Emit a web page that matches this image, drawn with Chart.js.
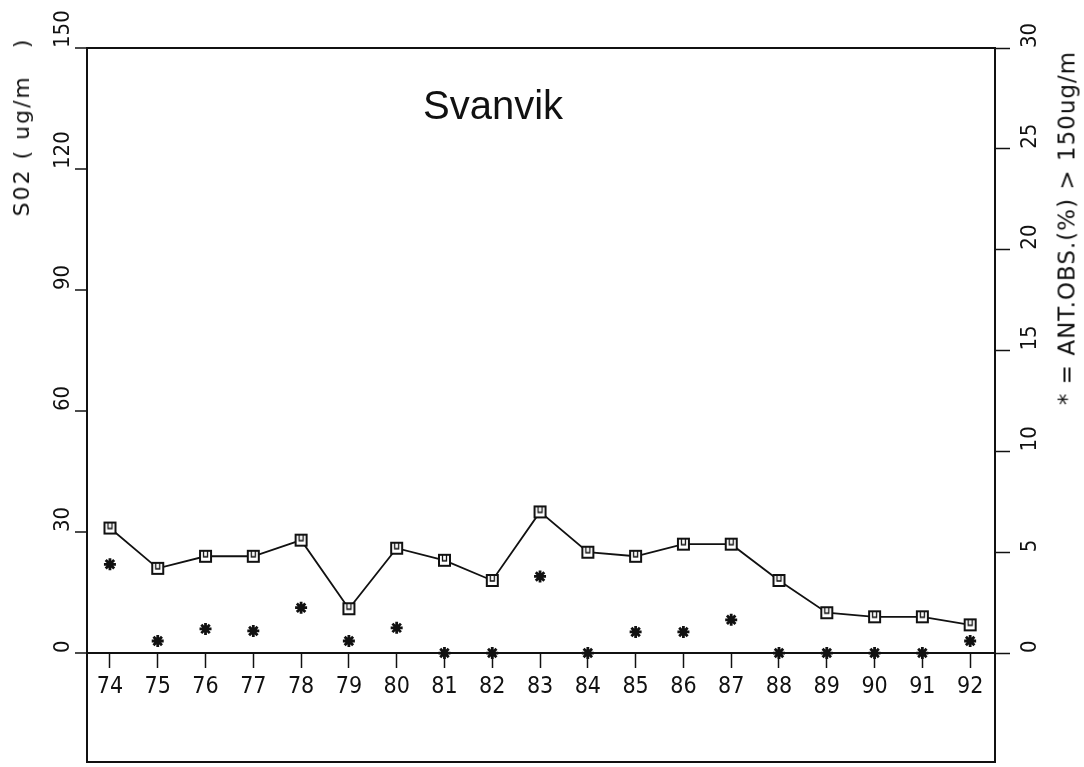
<!DOCTYPE html>
<html>
<head>
<meta charset="utf-8">
<script src="https://cdn.jsdelivr.net/npm/chart.js@4.4.1/dist/chart.umd.min.js"></script>
<style>
    body { margin: 0; background: #fff; }
    #wrap { position: relative; width: 1084px; height: 767px; }
    #so2Chart { position: absolute; left: 0; top: 0; }
    .lbl { position: absolute; white-space: pre; color: #111; }
    #title { left: 493px; top: 85px; transform: translateX(-50%); font: 40px/40px "Liberation Sans", Arial, sans-serif; }
    .rot { transform: translate(-50%, -50%) rotate(-90deg); font-family: "DejaVu Sans", sans-serif; line-height: 1; }
    #yTitle { left: 22px; top: 127px; font-size: 22px; letter-spacing: 2px; }
    #y1Title { left: 1067px; top: 228px; font-size: 23px; letter-spacing: 1px; }
</style>
</head>
<body>
<div id="wrap">
    <canvas id="so2Chart" width="1084" height="767"></canvas>
    <div id="title" class="lbl">Svanvik</div>
    <div id="yTitle" class="lbl rot">S02 ( ug/m   )</div>
    <div id="y1Title" class="lbl rot">* = ANT.OBS.(%) &gt; 150ug/m</div>
</div>
<script>
// Yearly SO2 means (left axis) and share of observations > 150 ug/m3 (right axis)
const years = [74, 75, 76, 77, 78, 79, 80, 81, 82, 83, 84, 85, 86, 87, 88, 89, 90, 91, 92];
const so2Mean = [31, 21, 24, 24, 28, 11, 26, 23, 18, 35, 25, 24, 27, 27, 18, 10, 9, 9, 7];
const pctOver150 = [4.4, 0.6, 1.2, 1.1, 2.25, 0.6, 1.25, 0, 0, 3.8, 0, 1.05, 1.05, 1.65, 0, 0, 0, 0, 0.6];
const so2Ticks = [0, 30, 60, 90, 120, 150];
const pctTicks = [0, 5, 10, 15, 20, 25, 30];

const ink = '#111';
const tickFont = { family: "'DejaVu Sans Condensed', 'DejaVu Sans', sans-serif", size: 22 };
const SO2_MIN = -27;   // frame runs below the zero line
const PCT_MIN = -5.4;

// plotter-style square marker with a small mark inside
function squareMarker() {
    const c = document.createElement('canvas');
    c.width = 15;
    c.height = 15;
    const g = c.getContext('2d');
    g.fillStyle = '#fff';
    g.fillRect(1, 1, 13, 13);
    g.strokeStyle = ink;
    g.lineWidth = 2;
    g.strokeRect(2, 2, 11, 11);
    g.lineWidth = 1.3;
    g.beginPath();
    g.moveTo(5.5, 3);
    g.lineTo(5.5, 8);
    g.lineTo(9.5, 8);
    g.lineTo(9.5, 3);
    g.stroke();
    return c;
}

function zeroPadding(scale) {
    scale.paddingTop = 0;
    scale.paddingBottom = 0;
    scale.paddingLeft = 0;
    scale.paddingRight = 0;
}

new Chart(document.getElementById('so2Chart'), {
    type: 'line',
    data: {
        datasets: [
            {
                label: 'SO2',
                data: years.map((yr, i) => ({ x: yr, y: so2Mean[i] })),
                yAxisID: 'y',
                borderColor: ink,
                borderWidth: 1.8,
                tension: 0,
                pointStyle: squareMarker(),
                pointRadius: 7,
            },
            {
                label: 'ANT.OBS.',
                data: years.map((yr, i) => ({ x: yr, y: pctOver150[i] })),
                yAxisID: 'y1',
                showLine: false,
                pointStyle: 'star',
                pointRadius: 6,
                borderColor: ink,
                borderWidth: 2.8,
            }
        ]
    },
    options: {
        responsive: false,
        animation: false,
        layout: { autoPadding: false, padding: { left: 52, right: 20, top: 48, bottom: 5 } },
        plugins: {
            legend: { display: false },
            tooltip: { enabled: false },
        },
        scales: {
            x: {
                type: 'linear',
                position: { y: 0 },
                min: 73.52,
                max: 92.52,
                afterBuildTicks: axis => { axis.ticks = years.map(v => ({ value: v })); },
                afterFit: zeroPadding,
                ticks: {
                    autoSkip: false,
                    maxRotation: 0,
                    padding: 6,
                    color: ink,
                    font: { ...tickFont, size: 23 },
                    callback: v => String(v),
                },
                grid: { drawOnChartArea: false, tickLength: 14, tickColor: ink, tickWidth: 1.5 },
                border: { display: true, color: ink, width: 2 },
            },
            y: {
                type: 'linear',
                position: 'left',
                min: SO2_MIN,
                max: 150,
                afterBuildTicks: axis => { axis.ticks = [SO2_MIN, ...so2Ticks].map(v => ({ value: v })); },
                afterFit: scale => { zeroPadding(scale); scale.width = 35; },
                ticks: {
                    autoSkip: false,
                    minRotation: 90,
                    maxRotation: 90,
                    crossAlign: 'far',
                    align: 'start',
                    color: ink,
                    font: tickFont,
                    callback: v => (v < 0 ? '' : String(v)),
                },
                grid: {
                    color: ctx => (ctx.tick && (ctx.tick.value === 150 || ctx.tick.value === SO2_MIN) ? ink : 'transparent'),
                    lineWidth: 2,
                    tickColor: ctx => (ctx.tick && ctx.tick.value < 0 ? 'transparent' : ink),
                    tickLength: 12,
                    tickWidth: 1.5,
                },
                border: { color: ink, width: 2 },
            },
            y1: {
                type: 'linear',
                position: 'right',
                min: PCT_MIN,
                max: 30,
                afterBuildTicks: axis => { axis.ticks = pctTicks.map(v => ({ value: v })); },
                afterFit: scale => { zeroPadding(scale); scale.width = 69; },
                ticks: {
                    autoSkip: false,
                    minRotation: 90,
                    maxRotation: 90,
                    crossAlign: 'near',
                    padding: 20,
                    color: ink,
                    font: tickFont,
                },
                grid: { drawOnChartArea: false, tickLength: 15, tickColor: ink, tickWidth: 1.5 },
                border: { color: ink, width: 2 },
            }
        }
    }
});
</script>
</body>
</html>
